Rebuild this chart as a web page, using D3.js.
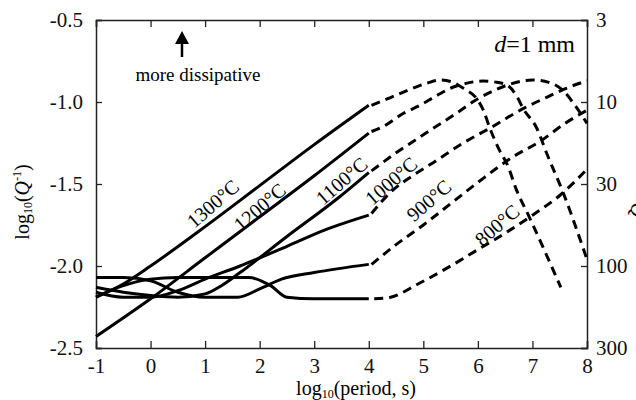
<!DOCTYPE html>
<html>
<head>
<meta charset="utf-8">
<script src="https://cdn.jsdelivr.net/npm/d3@7"></script>
<style>
  body { margin: 0; background: #fff; }
</style>
</head>
<body>
<div id="chart"></div>
<script>
// chart size
const WIDTH = 636;
const HEIGHT = 400;
const MARGIN = { top: 20, right: 49, bottom: 52, left: 96 };
const FONT = "'Liberation Serif', 'Times New Roman', Tinos, 'DejaVu Serif', serif";

// data: log10(period, s) vs log10(Q^-1), solid = measured range, dashed = extrapolated
const temps = ["1300", "1200", "1100", "1000", "900", "800"];

const solid1300 = [[-1, -2.19], [-0.5, -2.11], [0, -2.0], [1, -1.76], [2, -1.51], [3, -1.26], [4, -1.02]];
const solid1200 = [[-1, -2.43], [0, -2.2], [1, -1.95], [2, -1.7], [3, -1.45], [4, -1.19]];
const solid1100 = [[-1, -2.13], [-0.5, -2.16], [0, -2.18], [0.5, -2.19], [1, -2.17], [1.3, -2.12], [1.64, -2.04], [2.5, -1.82], [3.42, -1.59], [4, -1.43]];
const solid1000 = [[-1, -2.16], [-0.5, -2.19], [0, -2.19], [0.5, -2.15], [1, -2.08], [1.64, -2.0], [2.5, -1.88], [3.2, -1.78], [4, -1.69]];
const solid900 = [[-1, -2.07], [-0.5, -2.07], [0, -2.09], [0.5, -2.16], [1, -2.19], [1.6, -2.19], [2, -2.14], [2.4, -2.08], [3, -2.04], [4, -1.99]];
const solid800 = [[-1, -2.19], [-0.5, -2.12], [0, -2.08], [0.5, -2.07], [1, -2.07], [1.8, -2.07], [2.2, -2.12], [2.5, -2.19], [3, -2.2], [4, -2.2]];

const dash1300 = [[4.05, -1.02], [4.35, -0.98], [4.7, -0.93], [5.07, -0.885], [5.3, -0.866], [5.5, -0.875], [5.75, -0.92], [5.98, -0.98], [6.1, -1.05], [6.22, -1.16], [6.39, -1.29], [6.55, -1.39], [6.7, -1.53], [6.94, -1.7], [7.52, -2.13]];
const dash1200 = [[4.05, -1.18], [4.26, -1.15], [4.63, -1.07], [4.94, -1.02], [5.25, -0.96], [5.54, -0.91], [5.8, -0.885], [6.09, -0.872], [6.35, -0.88], [6.55, -0.9], [6.72, -0.97], [6.83, -1.04], [7.08, -1.16], [7.27, -1.32], [7.56, -1.55], [8, -1.96]];
const dash1100 = [[4.05, -1.42], [4.5, -1.31], [5, -1.2], [5.6, -1.07], [6, -0.98], [6.3, -0.93], [6.6, -0.89], [7, -0.866], [7.3, -0.88], [7.56, -0.93], [7.8, -1.03], [8, -1.13]];
const dash1000 = [[4.05, -1.68], [4.4, -1.55], [4.8, -1.45], [5.18, -1.37], [5.73, -1.25], [6.22, -1.16], [6.83, -1.04], [7.27, -0.97], [7.63, -0.915], [8, -0.87]];
const dash900 = [[4.05, -1.99], [4.5, -1.87], [5, -1.75], [5.5, -1.62], [6, -1.49], [6.64, -1.335], [7.14, -1.24], [7.6, -1.13], [8, -1.05]];
const dash800 = [[4.1, -2.2], [4.4, -2.19], [4.9, -2.11], [5.5, -2.0], [6, -1.9], [6.5, -1.8], [7, -1.69], [7.5, -1.57], [8, -1.41]];

const solids = [solid1300, solid1200, solid1100, solid1000, solid900, solid800];
const dashes = [dash1300, dash1200, dash1100, dash1000, dash900, dash800];

// label centres in data units
const labelPos = [[1.14, -1.62], [2.0, -1.64], [3.5, -1.48], [4.41, -1.48], [5.1, -1.6], [6.35, -1.75]];

// axes ticks
const xTicks = [-1, 0, 1, 2, 3, 4, 5, 6, 7, 8];
const yTicks = [-0.5, -1.0, -1.5, -2.0, -2.5];
const qLabels = ["3", "10", "30", "100", "300"];

const svg = d3
  .select("#chart")
  .append("svg")
  .attr("width", WIDTH)
  .attr("height", HEIGHT)
  .attr("font-family", FONT);

const x = d3.scaleLinear().domain([-1, 8]).range([MARGIN.left, WIDTH - MARGIN.right]);
const y = d3.scaleLinear().domain([-2.5, -0.5]).range([HEIGHT - MARGIN.bottom, MARGIN.top]);

// axes (ticks point inwards)
svg.append("g")
  .attr("transform", `translate(${MARGIN.left},0)`)
  .call(d3.axisLeft(y).tickValues(yTicks).tickSize(-6).tickPadding(13).tickFormat(d => d.toFixed(1)));
svg.append("g")
  .attr("transform", `translate(${WIDTH - MARGIN.right},0)`)
  .call(d3.axisRight(y).tickValues(yTicks).tickSize(-6).tickPadding(9).tickFormat((d, i) => qLabels[i]));
svg.append("g")
  .attr("transform", `translate(0,${HEIGHT - MARGIN.bottom})`)
  .call(d3.axisBottom(x).tickValues(xTicks).tickSize(-7).tickPadding(10).tickFormat(d => String(d)));
svg.append("g")
  .attr("transform", `translate(0,${MARGIN.top})`)
  .call(d3.axisTop(x).tickValues(xTicks).tickSize(-7).tickFormat(""));

svg.selectAll("g").attr("font-family", FONT);
svg.selectAll(".domain").attr("stroke", "#222").attr("stroke-width", 1.5);
svg.selectAll(".tick line").attr("stroke", "#222").attr("stroke-width", 1.3);
svg.selectAll(".tick text").attr("font-size", 21).attr("fill", "#111");

// curves
const line = d3.line()
  .x(d => x(d[0]))
  .y(d => y(d[1]))
  .curve(d3.curveMonotoneX);

const plot = svg.append("g");
plot.selectAll("path.solid")
  .data(solids)
  .enter()
  .append("path")
  .attr("class", "solid")
  .attr("d", line)
  .attr("fill", "none")
  .attr("stroke", "#000")
  .attr("stroke-width", 3);

plot.selectAll("path.dash")
  .data(dashes)
  .enter()
  .append("path")
  .attr("class", "dash")
  .attr("d", line)
  .attr("fill", "none")
  .attr("stroke", "#000")
  .attr("stroke-width", 3)
  .attr("stroke-dasharray", "9,6");

// temperature labels
plot.selectAll("text.temp")
  .data(temps)
  .enter()
  .append("text")
  .attr("class", "temp")
  .attr("transform", (d, i) => `translate(${x(labelPos[i][0])},${y(labelPos[i][1])}) rotate(-41)`)
  .attr("text-anchor", "middle")
  .attr("dy", "0.35em")
  .attr("font-size", 20)
  .text(d => d + "°C");

// annotations
svg.append("text")
  .attr("x", 198).attr("y", 81)
  .attr("text-anchor", "middle")
  .attr("font-size", 19)
  .text("more dissipative");
svg.append("line")
  .attr("x1", 182).attr("x2", 182)
  .attr("y1", 57).attr("y2", 40)
  .attr("stroke", "#000").attr("stroke-width", 2.5);
svg.append("path")
  .attr("d", "M182,31 L175,44 L189,44 Z")
  .attr("fill", "#000");

const dLabel = svg.append("text")
  .attr("x", 575).attr("y", 52)
  .attr("text-anchor", "end")
  .attr("font-size", 24);
dLabel.append("tspan").attr("font-style", "italic").text("d");
dLabel.append("tspan").text("=1 mm");

// axis titles
const xt = svg.append("text")
  .attr("x", 356).attr("y", 395)
  .attr("text-anchor", "middle")
  .attr("font-size", 20);
xt.append("tspan").text("log");
xt.append("tspan").attr("font-size", 12).attr("dy", 3).text("10");
xt.append("tspan").attr("dy", -3).text("(period, s)");

const yt = svg.append("text")
  .attr("transform", "translate(29,202) rotate(-90)")
  .attr("text-anchor", "middle")
  .attr("font-size", 20);
yt.append("tspan").text("log");
yt.append("tspan").attr("font-size", 12).attr("dy", 3).text("10");
yt.append("tspan").attr("dy", -3).text("(");
yt.append("tspan").attr("font-style", "italic").text("Q");
yt.append("tspan").attr("font-size", 12).attr("dy", -8).text("-1");
yt.append("tspan").attr("dy", 8).text(")");

// right axis title, mostly outside the frame as in the original
svg.append("text")
  .attr("transform", "translate(631,210) rotate(90)")
  .attr("text-anchor", "middle")
  .attr("font-size", 20)
  .attr("font-style", "italic")
  .text("Q");
</script>
</body>
</html>
